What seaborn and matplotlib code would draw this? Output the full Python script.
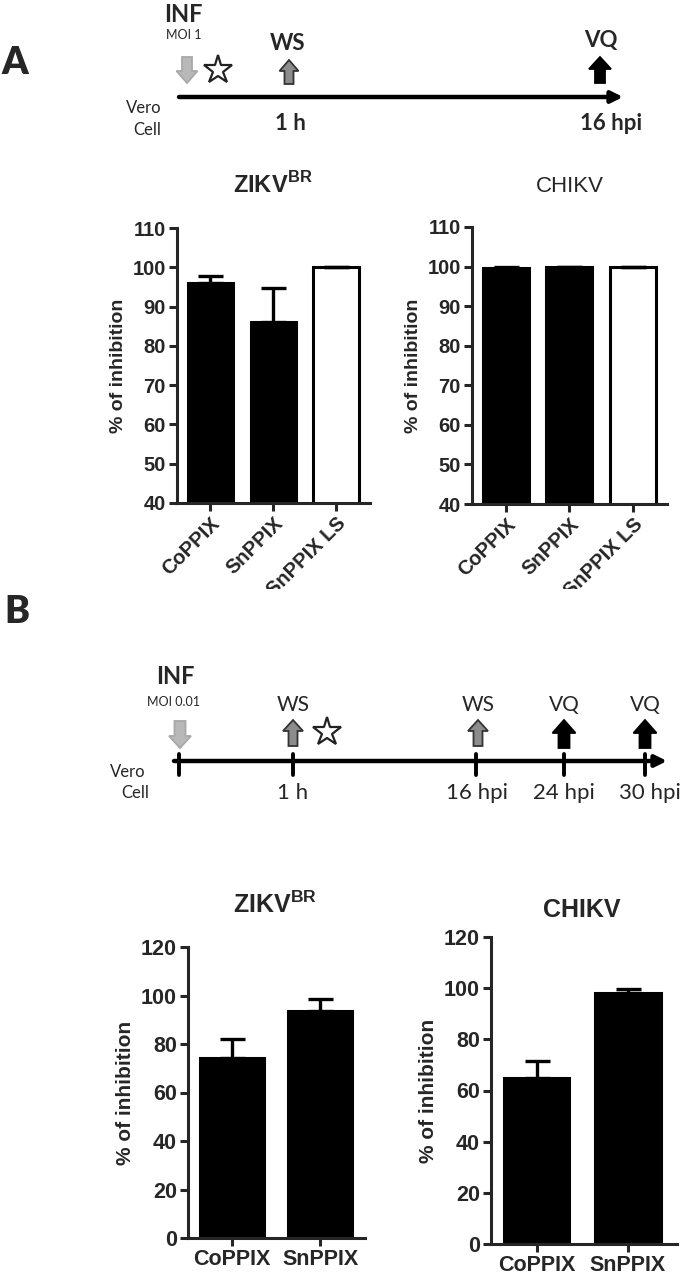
import numpy as np
import pandas as pd
import matplotlib
matplotlib.use("Agg")
import matplotlib.pyplot as plt
from matplotlib.patches import FancyArrow
from matplotlib.transforms import Bbox
import seaborn as sns

# -- Data --
labels_a = ['CoPPIX', 'SnPPIX', 'SnPPIX LS']
zikv_a_mean = [95.9, 86.2, 100.0]
zikv_a_err = [1.8, 8.4, 0.0]
chikv_a_mean = [99.7, 99.9, 100.0]
chikv_a_err = [0.3, 0.1, 0.0]

labels_b = ['CoPPIX', 'SnPPIX']
zikv_b_mean = [74.3, 93.6]
zikv_b_err = [7.7, 4.8]
chikv_b_mean = [64.9, 98.3]
chikv_b_err = [6.8, 1.4]

colors_a = ['black', 'black', 'white']
colors_b = ['black', 'black']

# timeline text
tl_a_times = ['1 h', '16 hpi']
tl_b_times = ['1 h', '16 hpi', '24 hpi', '30 hpi']

# -- Style --
sns.set_style('ticks')
plt.rcParams['font.family'] = ['Liberation Sans', 'DejaVu Sans']
plt.rcParams['font.weight'] = 'bold'
plt.rcParams['mathtext.fontset'] = 'custom'
plt.rcParams['mathtext.rm'] = 'Liberation Sans'
plt.rcParams['axes.linewidth'] = 2.2

W, H = 685, 1281
fig = plt.figure(figsize=(W / 100, H / 100), dpi=100)

def rect(x0, y0, x1, y1):
    # pixel box -> figure fraction
    return [x0 / W, 1 - y1 / H, (x1 - x0) / W, (y1 - y0) / H]

# -- Timeline overlay (pixel coords) --
tl = fig.add_axes([0, 0, 1, 1], zorder=0)
tl.set_xlim(0, W)
tl.set_ylim(H, 0)
tl.axis('off')
TF = ['Lato', 'DejaVu Sans']

def block_arrow(x, y_tail, y_head, fc, ec, body=9, head=20, hl=10):
    tl.add_patch(FancyArrow(x, y_tail, 0, y_head - y_tail, width=body, head_width=head,
                            head_length=hl, length_includes_head=True,
                            fc=fc, ec=ec, lw=1.3))

def star(x, y):
    tl.plot([x], [y], marker='*', ms=21, mfc='white', mec='#222222', mew=1.6)

# panel A timeline
tl.text(15, 63, 'A', family=TF, fontsize=27, weight='heavy', ha='center', va='center')
tl.annotate('', xy=(623, 97), xytext=(179, 97),
            arrowprops=dict(arrowstyle='-|>', lw=3.2, color='black', mutation_scale=17,
                            shrinkA=0, shrinkB=0))
tl.text(183, 14, 'INF', family=TF, fontsize=17, weight='bold', ha='center', va='center')
tl.text(184, 35, 'MOI 1', family=TF, fontsize=9, weight='normal', ha='center', va='center')
block_arrow(187, 57, 83, '#b8b8b8', '#a8a8a8', body=10, head=21, hl=12)
star(218, 70)
tl.text(288, 44, 'WS', family=TF, fontsize=16, weight='bold', ha='center', va='center')
block_arrow(289, 84, 60, '#8c8c8c', '#333333', body=9, head=19, hl=11)
tl.text(601, 41, 'VQ', family=TF, fontsize=16, weight='bold', ha='center', va='center')
block_arrow(600, 83, 57, 'black', 'black', body=10, head=22, hl=12)
tl.text(144, 108, 'Vero', family=TF, fontsize=12, weight='normal', ha='center', va='center')
tl.text(147, 130, 'Cell', family=TF, fontsize=12, weight='normal', ha='center', va='center')
for lab, x in zip(tl_a_times, [290, 611]):
    tl.text(x, 124, lab, family=TF, fontsize=16, weight='bold', ha='center', va='center')

# panel B timeline
tl.text(17, 612, 'B', family=TF, fontsize=27, weight='heavy', ha='center', va='center')
tl.annotate('', xy=(667, 761), xytext=(174, 761),
            arrowprops=dict(arrowstyle='-|>', lw=3.2, color='black', mutation_scale=17,
                            shrinkA=0, shrinkB=0))
for x in [179, 293, 476, 564, 645]:
    tl.plot([x, x], [754, 775], color='black', lw=2.8)
tl.text(175, 677, 'INF', family=TF, fontsize=17, weight='bold', ha='center', va='center')
tl.text(174, 702, 'MOI 0.01', family=TF, fontsize=9, weight='normal', ha='center', va='center')
block_arrow(180, 721, 748, '#b8b8b8', '#a8a8a8', body=11, head=22, hl=12)
for x in [293, 478]:
    tl.text(x, 705, 'WS', family=TF, fontsize=15, weight='normal', ha='center', va='center')
    block_arrow(x, 746, 720, '#8c8c8c', '#333333', body=9, head=20, hl=11)
star(327, 732)
for x in [564, 645]:
    tl.text(x, 705, 'VQ', family=TF, fontsize=15, weight='normal', ha='center', va='center')
    block_arrow(x, 748, 720, 'black', 'black', body=11, head=23, hl=13)
tl.text(128, 772, 'Vero', family=TF, fontsize=12, weight='normal', ha='center', va='center')
tl.text(135, 793, 'Cell', family=TF, fontsize=12, weight='normal', ha='center', va='center')
for lab, x in zip(tl_b_times, [293, 477, 564, 650]):
    tl.text(x, 793, lab, family=TF, fontsize=16, weight='normal', ha='center', va='center')


# -- Bar charts --
def bar_panel(box, labels, mean, err, colors, ylim, step, xlim, title, title_xy,
              title_size, title_weight, rot, fs, lfs):
    ax = fig.add_axes(rect(*box), zorder=2)
    df = pd.DataFrame({'treatment': labels, 'inhibition': mean})
    sns.barplot(data=df, x='treatment', y='inhibition', hue='treatment',
                palette=colors, legend=False, edgecolor='black', linewidth=2.2,
                width=0.72, ax=ax)
    pos = np.arange(len(labels))
    ax.errorbar(pos, mean, yerr=[np.zeros(len(err)), err], fmt='none',
                ecolor='black', elinewidth=2.4, capsize=9, capthick=2.4, zorder=1)
    ax.set_ylim(*ylim)
    ax.set_yticks(np.arange(ylim[0], ylim[1] + 1, step))
    ax.set_xlim(*xlim)
    ax.set_xlabel('')
    ax.set_ylabel('% of inhibition', fontsize=lfs, fontweight='bold', labelpad=4)
    ax.tick_params(axis='both', direction='out', length=6, width=2.2, labelsize=fs, pad=2)
    if rot:
        ax.set_xticks(pos)
        ax.set_xticklabels(labels, rotation=45, ha='right', rotation_mode='anchor',
                           fontweight='bold')
        # reference crops the bottom of the rotated labels
        clip = Bbox.from_extents(0, (H - 589), W, H)
        for t in ax.get_xticklabels():
            t.set_clip_box(clip)
            t.set_clip_on(True)
    sns.despine(ax=ax)
    fig.text(title_xy[0] / W, 1 - title_xy[1] / H, title, fontsize=title_size,
             fontweight=title_weight, ha='center', va='center')
    return ax

bar_panel((177, 228, 370, 503), labels_a, zikv_a_mean, zikv_a_err, colors_a,
          (40, 110), 10, (-0.53, 2.54), r'ZIKV$^{\mathrm{BR}}$', (273, 185), 17, 'bold', True, 14.5, 14)
bar_panel((472, 227, 667, 504), labels_a, chikv_a_mean, chikv_a_err, colors_a,
          (40, 110), 10, (-0.53, 2.54), 'CHIKV', (570, 186), 16, 'normal', True, 14.5, 14)
bar_panel((188, 947, 365, 1238), labels_b, zikv_b_mean, zikv_b_err, colors_b,
          (0, 120), 20, (-0.5, 1.51), r'ZIKV$^{\mathrm{BR}}$', (275, 905), 18, 'bold', False, 15.5, 15)
bar_panel((491, 937, 677, 1244), labels_b, chikv_b_mean, chikv_b_err, colors_b,
          (0, 120), 20, (-0.5, 1.54), 'CHIKV', (582, 910), 18, 'bold', False, 15.5, 15)

fig.savefig('out.png', dpi=100, facecolor='white')
